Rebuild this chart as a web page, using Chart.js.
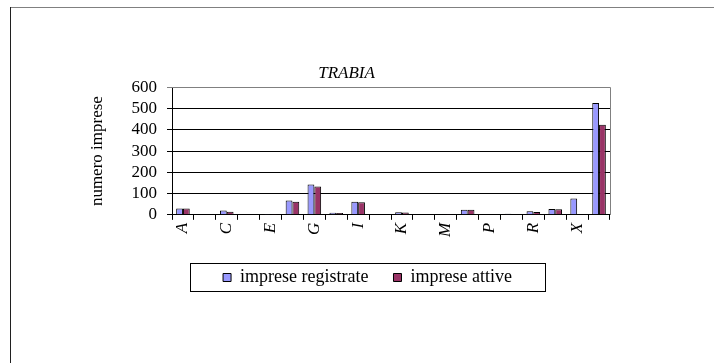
<!DOCTYPE html>
<html>
<head>
<meta charset="utf-8">
<script src="https://cdn.jsdelivr.net/npm/chart.js@4/dist/chart.umd.min.js"></script>
<style>
  html, body { margin: 0; padding: 0; background: #fff; }
  #wrap { width: 714px; height: 363px; position: relative; }
</style>
</head>
<body>
<div id="wrap"><canvas id="c" width="714" height="363"></canvas></div>
<script>
// ---- data ----
const chartTitle = "TRABIA";
const yAxisTitle = "numero imprese";
const categories = ["A","B","C","D","E","F","G","H","I","J","K","L","M","N","P","Q","R","S","X","Totale"];
const seriesNames = ["imprese registrate", "imprese attive"];
const registrate = [30, 0, 20, 0, 2, 67, 143, 10, 62, 4, 12, 4, 3, 24, 0, 5, 17, 27, 77, 527];
const attive     = [30, 0, 15, 0, 2, 62, 134, 9, 59, 3, 11, 3, 2, 24, 0, 4, 13, 26, 0, 424];
const yTicks = [0, 100, 200, 300, 400, 500, 600];

const FONT = "'Liberation Serif', 'Times New Roman', serif";
const FS = 17;

const framePlugin = {
  id: 'frame',
  afterLayout(chart) {
    const lg = chart.legend;
    if (lg) {
      lg.left = 187; lg.right = 548; lg.width = 361;
      lg.top = 243.5; lg.bottom = 310; lg.height = 66.5;
    }
  },
  beforeDraw(chart) {
    const ctx = chart.ctx;
    ctx.save();
    ctx.fillStyle = '#fff';
    ctx.fillRect(0, 0, chart.width, chart.height);
    ctx.lineWidth = 1;
    ctx.strokeStyle = '#808080';
    ctx.beginPath(); ctx.moveTo(10, 7.5); ctx.lineTo(714, 7.5); ctx.stroke();
    ctx.strokeStyle = '#202020';
    ctx.beginPath(); ctx.moveTo(10.5, 7); ctx.lineTo(10.5, 363); ctx.stroke();
    ctx.restore();
  },
  afterDraw(chart) {
    const ctx = chart.ctx;
    const a = chart.chartArea;
    ctx.save();
    ctx.lineWidth = 1;
    ctx.strokeStyle = '#808080';
    ctx.beginPath();
    ctx.moveTo(Math.round(a.left), Math.round(a.top) + 0.5);
    ctx.lineTo(Math.round(a.right) + 0.5, Math.round(a.top) + 0.5);
    ctx.lineTo(Math.round(a.right) + 0.5, Math.round(a.bottom));
    ctx.stroke();
    // legend frame
    ctx.strokeStyle = '#000';
    ctx.strokeRect(190.5, 263.5, 355, 28);
    ctx.restore();
  }
};

new Chart(document.getElementById('c'), {
  type: 'bar',
  data: {
    labels: categories,
    datasets: [
      { label: seriesNames[0], data: registrate, backgroundColor: '#9999FF', borderColor: '#000', borderWidth: 1,
        categoryPercentage: 0.62, barPercentage: 1.0 },
      { label: seriesNames[1], data: attive, backgroundColor: '#993366', borderColor: '#000', borderWidth: 1,
        categoryPercentage: 0.62, barPercentage: 1.0 }
    ]
  },
  options: {
    responsive: false,
    animation: false,
    devicePixelRatio: 1,
    layout: { padding: { left: 83, right: 104, top: 55, bottom: 70 } },
    plugins: {
      title: {
        display: true, text: chartTitle, color: '#000',
        font: { family: FONT, size: FS, style: 'italic', weight: 'normal' },
        padding: { top: 8, bottom: 4 }
      },
      legend: {
        position: 'bottom',
        labels: {
          color: '#000',
          font: { family: FONT, size: 18 },
          boxWidth: 8, boxHeight: 8, padding: 25
        }
      },
      tooltip: { enabled: false }
    },
    scales: {
      x: {
        grid: { display: true, drawOnChartArea: false, drawTicks: true, tickLength: 5, color: '#000', offset: true },
        border: { display: true, color: '#000' },
        ticks: {
          autoSkip: false, maxRotation: 90, minRotation: 90, color: '#000', padding: 3,
          font: { family: FONT, size: FS, style: 'italic' },
          callback: function(v, i) { return i % 2 === 0 ? categories[i] : ''; }
        }
      },
      y: {
        min: yTicks[0], max: yTicks[yTicks.length - 1],
        afterBuildTicks: (s) => { s.ticks = yTicks.map(v => ({ value: v })); },
        afterFit: (s) => { s.width = 89; },
        grid: { color: (c) => c.tick && c.tick.value === 600 ? '#808080' : '#000', tickLength: 5, drawTicks: true },
        border: { display: true, color: '#000' },
        ticks: { autoSkip: false, color: '#000', padding: 10, font: { family: FONT, size: FS } },
        title: { display: true, text: yAxisTitle, color: '#000', font: { family: FONT, size: FS }, padding: { top: 4, bottom: 4 } }
      }
    }
  },
  plugins: [framePlugin]
});
</script>
</body>
</html>
